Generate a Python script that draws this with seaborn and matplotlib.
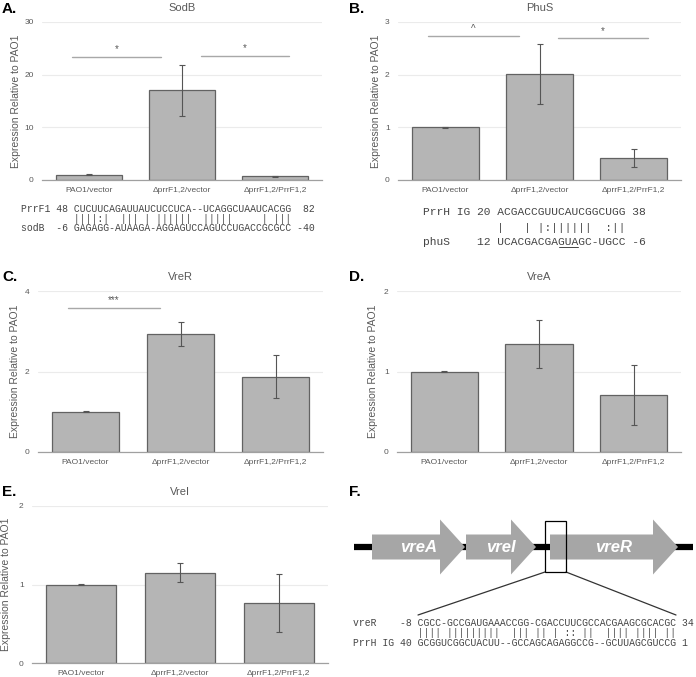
import numpy as np
import pandas as pd
import seaborn as sns
import matplotlib.pyplot as plt
from matplotlib.patches import Polygon, Rectangle

# strains on the x axis of every bar panel
strains = ["PAO1/vector", "ΔprrF1,2/vector", "ΔprrF1,2/PrrF1,2"]

# expression relative to PAO1 (mean, error)
sodb_mean = [1.0, 17.0, 0.7]
sodb_err = [0.05, 4.8, 0.12]
phus_mean = [1.0, 2.01, 0.42]
phus_err = [0.01, 0.57, 0.17]
vrer_mean = [1.0, 2.93, 1.87]
vrer_err = [0.01, 0.29, 0.53]
vrea_mean = [1.0, 1.34, 0.71]
vrea_err = [0.01, 0.30, 0.37]
vrei_mean = [1.0, 1.15, 0.76]
vrei_err = [0.01, 0.12, 0.37]

# significance: (group a, group b, height, mark)
sodb_sig = [(0, 1, 23.4, "*"), (1, 2, 23.6, "*")]
phus_sig = [(0, 1, 2.73, "^"), (1, 2, 2.69, "*")]
vrer_sig = [(0, 1, 3.58, "***")]

# sequence alignments
seq_a = ["PrrF1 48 CUCUUCAGAUUAUCUCCUCA--UCAGGCUAAUCACGG  82",
         "         ||||:|  ||| | ||||||  |||||     | |||",
         "sodB  -6 GAGAGG-AUAAGA-AGGAGUCCAGUCCUGACCGCGCC -40"]
seq_b = ["PrrH IG 20 ACGACCGUUCAUCGGCUGG 38",
         "           |   | |:||||||  :||",
         "phuS    12 UCACGACGAGUAGC-UGCC -6"]
seq_b_underlined = (20, 23)  # character range of "GUA" in the phuS line
seq_f = ["vreR    -8 CGCC-GCCGAUGAAACCGG-CGACCUUCGCCACGAAGCGCACGC 34",
         "           |||| |||||||||  ||| || | :: ||  |||| |||| ||",
         "PrrH IG 40 GCGGUCGGCUACUU--GCCAGCAGAGGCCG--GCUUAGCGUCCG 1"]

# vre operon (diagram units)
gene_names = ["vreA", "vreI", "vreR"]
gene_start = [372, 466, 550]
gene_end = [465, 536, 678]

sns.set_theme(style="whitegrid")
plt.rcParams["font.family"] = ["Liberation Sans", "DejaVu Sans"]

W, H = 696, 677
fig = plt.figure(figsize=(W / 100, H / 100), dpi=100)

grey_txt = "#595959"
sig_spans = {(0, 1): (-0.18, 0.78), (1, 2): (1.2, 2.15)}


def bar_panel(box, title, means, errs, ymax, ystep, sig, lab_x):
    l, t, r, b = box
    ax = fig.add_axes([l / W, 1 - b / H, (r - l) / W, (b - t) / H])
    df = pd.DataFrame({"strain": strains, "expr": means})
    sns.barplot(data=df, x="strain", y="expr", color="#b5b5b5", saturation=1,
                edgecolor="#626262", linewidth=0.9, width=0.71, errorbar=None, ax=ax)
    ax.errorbar(np.arange(len(strains)), means, yerr=errs, fmt="none",
                ecolor="#555555", elinewidth=0.8, capsize=2, capthick=0.8, zorder=4)
    for a, bb, h, mark in sig:
        x0, x1 = sig_spans[(a, bb)]
        ax.plot([x0, x1], [h, h], color="#a8a8a8", lw=1.0, clip_on=False)
        ax.text((x0 + x1) / 2, h + ymax * 0.015, mark, ha="center", va="bottom",
                fontsize=7, color=grey_txt)
    ax.set_ylim(0, ymax)
    ax.set_xlim(-0.5, 2.5)
    ax.set_yticks(np.arange(0, ymax + 1e-9, ystep))
    ax.yaxis.grid(True, color="#ebebeb", lw=0.8)
    ax.xaxis.grid(False)
    for s in ["left", "right", "top"]:
        ax.spines[s].set_visible(False)
    ax.spines["bottom"].set_color("#a0a0a0")
    ax.spines["bottom"].set_linewidth(0.9)
    ax.tick_params(axis="both", length=0, colors=grey_txt)
    ax.tick_params(axis="x", labelsize=6, pad=5)
    ax.tick_params(axis="y", labelsize=6, pad=6)
    ax.set_xlabel("")
    ax.set_ylabel("Expression Relative to PAO1", fontsize=7.5, color=grey_txt)
    ax.yaxis.set_label_coords((lab_x - l) / (r - l), 0.5)
    ax.set_title(title, fontsize=8, color=grey_txt, pad=8)
    return ax


bar_panel((42, 22, 322, 180), "SodB", sodb_mean, sodb_err, 30, 10, sodb_sig, 21)
bar_panel((398, 22, 681, 180), "PhuS", phus_mean, phus_err, 3, 1, phus_sig, 381)
bar_panel((38, 291, 323, 452), "VreR", vrer_mean, vrer_err, 4, 2, vrer_sig, 20)
bar_panel((397, 291, 681, 452), "VreA", vrea_mean, vrea_err, 2, 1, [], 378)
bar_panel((32, 506, 328, 663), "VreI", vrei_mean, vrei_err, 2, 1, [], 11)

# overlay in pixel coordinates for letters, alignments and the operon sketch
ov = fig.add_axes([0, 0, 1, 1])
ov.set_xlim(0, W)
ov.set_ylim(H, 0)
ov.axis("off")

for lab, x, y in [("A.", 2, 9), ("B.", 349, 9), ("C.", 2, 277),
                  ("D.", 349, 277), ("E.", 2, 492), ("F.", 349, 492)]:
    ov.text(x, y, lab, fontsize=11, fontweight="bold", color="black", ha="left", va="center")

mono = dict(family="Liberation Mono", color="#444444", ha="left", va="center")
for line, y in zip(seq_a, [209, 219, 228]):
    ov.text(21, y, line, fontsize=7, **mono)
for line, y in zip(seq_b, [212, 228, 242]):
    ov.text(423, y, line, fontsize=8.1, **mono)
# underline "GUA" (monospace char width = 0.6 em)
cw = 0.6 * 8.1 * 100 / 72
u0, u1 = seq_b_underlined
ov.plot([423 + u0 * cw + 0.5, 423 + u1 * cw - 0.5], [247, 247], color="#444444", lw=0.7)
for line, y in zip(seq_f, [623, 633, 643]):
    ov.text(353, y, line, fontsize=7, **mono)

# operon
yc = 547
ov.plot([354, 693], [yc, yc], color="black", lw=4.5, solid_capstyle="butt", zorder=1)
head = 25
for name, x0, x1 in zip(gene_names, gene_start, gene_end):
    xh = x1 - head
    pts = [(x0, yc - 12.5), (xh, yc - 12.5), (xh, yc - 27.5), (x1, yc),
           (xh, yc + 27.5), (xh, yc + 12.5), (x0, yc + 12.5)]
    ov.add_patch(Polygon(pts, closed=True, facecolor="#a6a6a6", edgecolor="none", zorder=2))
    ov.text((x0 + x1) / 2, yc, name, fontsize=12, fontweight="bold", fontstyle="italic",
            color="white", ha="center", va="center", zorder=3)
ov.add_patch(Rectangle((545, 521), 21, 51, fill=False, edgecolor="black", lw=0.9, zorder=4))
ov.plot([545, 418], [572, 615], color="#333333", lw=0.9)
ov.plot([566, 676], [572, 615], color="#333333", lw=0.9)

fig.savefig("out.png", dpi=100)
